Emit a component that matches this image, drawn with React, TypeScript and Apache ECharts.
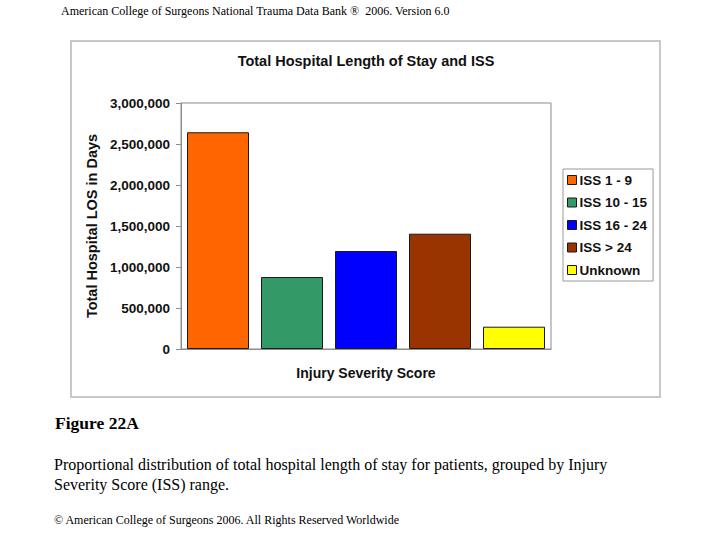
import React, { useEffect, useRef } from "react";
import * as echarts from "echarts";

const categories = ["ISS 1 - 9", "ISS 10 - 15", "ISS 16 - 24", "ISS > 24", "Unknown"];
const losDays = [2643000, 878000, 1195000, 1406000, 272000];
const barColors = ["#FF6600", "#339966", "#0000FF", "#993300", "#FFFF00"];
const yTicks = { min: 0, max: 3000000, interval: 500000 };

const headerText = "American College of Surgeons National Trauma Data Bank \u00AE  2006. Version 6.0";
const chartTitle = "Total Hospital Length of Stay and ISS";
const yAxisName = "Total Hospital LOS in Days";
const xAxisName = "Injury Severity Score";
const figureLabel = "Figure 22A";
const captionLines = [
  "Proportional distribution of total hospital length of stay for patients, grouped by Injury",
  "Severity Score (ISS) range.",
];
const copyrightText = "\u00A9 American College of Surgeons 2006. All Rights Reserved Worldwide";

const SANS = "Liberation Sans, Arial, sans-serif";
const SERIF = "Liberation Serif, Times New Roman, serif";

export default function App() {
  const ref = useRef<HTMLDivElement>(null);
  useEffect(() => {
    if (!ref.current) return;
    const chart = echarts.init(ref.current, null, { renderer: "svg" });
    const series = categories.map((name, i) => ({
      name,
      type: "bar",
      stack: "iss",
      barWidth: 62,
      data: losDays.map((v, j) => (j === i ? v : "-")),
      itemStyle: { color: barColors[i], borderColor: "#1a1a1a", borderWidth: 1 },
    }));
    chart.setOption({
      animation: false,
      backgroundColor: "#ffffff",
      graphic: [
        {
          type: "rect",
          shape: { x: 71, y: 41, width: 589, height: 356 },
          style: { fill: "#ffffff", stroke: "#c8c8c8", lineWidth: 2 },
          z: -10,
        },
        {
          type: "text",
          x: 61,
          y: 5,
          style: { text: headerText, font: `12px ${SERIF}`, fill: "#000" },
        },
        {
          type: "text",
          x: 55,
          y: 414,
          style: { text: figureLabel, font: `bold 17.5px ${SERIF}`, fill: "#000" },
        },
        {
          type: "text",
          x: 54,
          y: 454,
          style: {
            text: captionLines.join("\n"),
            font: `16px ${SERIF}`,
            lineHeight: 20,
            fill: "#000",
          },
        },
        {
          type: "text",
          x: 54,
          y: 514,
          style: { text: copyrightText, font: `12px ${SERIF}`, fill: "#000" },
        },
        {
          type: "text",
          x: 366,
          y: 61,
          style: {
            text: chartTitle,
            font: `bold 14.5px ${SANS}`,
            fill: "#111",
            align: "center",
            verticalAlign: "middle",
          },
        },
      ],
      legend: {
        orient: "vertical",
        left: 563,
        top: 169,
        padding: [4, 6, 4, 4],
        itemGap: 8.5,
        itemWidth: 9,
        itemHeight: 9,
        icon: "rect",
        borderColor: "#999",
        borderWidth: 1,
        backgroundColor: "#fff",
        textStyle: { fontFamily: SANS, fontWeight: "bold", fontSize: 13.5, lineHeight: 14, color: "#111", padding: [0, 0, 0, -2] },
        itemStyle: { borderColor: "#1a1a1a", borderWidth: 1 },
        data: categories,
      },
      grid: {
        left: 181,
        right: 169,
        top: 103,
        bottom: 191,
        show: true,
        borderColor: "#8c8c8c",
        borderWidth: 1,
        backgroundColor: "#fff",
      },
      xAxis: {
        type: "category",
        data: categories,
        axisLabel: { show: false },
        axisTick: { show: false },
        axisLine: { lineStyle: { color: "#8c8c8c" } },
        name: xAxisName,
        nameLocation: "middle",
        nameGap: 17,
        nameTextStyle: { fontFamily: SANS, fontWeight: "bold", fontSize: 14, color: "#111" },
      },
      yAxis: {
        type: "value",
        min: yTicks.min,
        max: yTicks.max,
        interval: yTicks.interval,
        splitLine: { show: false },
        axisLine: { show: true, lineStyle: { color: "#8c8c8c" } },
        axisTick: { show: true, length: 5, lineStyle: { color: "#8c8c8c" } },
        axisLabel: {
          margin: 11,
          fontFamily: SANS,
          fontWeight: "bold",
          fontSize: 13.5,
          color: "#111",
          formatter: (v: number) => v.toLocaleString("en-US"),
        },
        name: yAxisName,
        nameLocation: "middle",
        nameGap: 76,
        nameTextStyle: { fontFamily: SANS, fontWeight: "bold", fontSize: 14.5, color: "#111" },
      },
      series,
    });
    return () => chart.dispose();
  }, []);
  return (
    <div
      ref={ref}
      style={{ position: "absolute", left: 0, top: 0, width: 720, height: 540 }}
    />
  );
}
